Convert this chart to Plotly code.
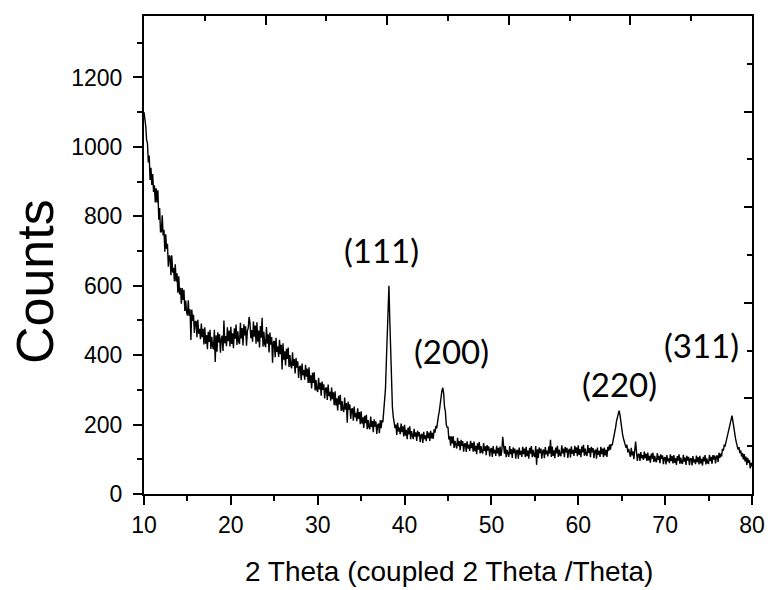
import plotly.graph_objects as go

# XRD scan: 2-theta from 10 to 80 deg, sampled every 0.1 deg
SCAN_START = 10.0
SCAN_STEP = 0.1
counts = [
    1100, 1080, 1060, 1020, 1010, 955, 975, 905, 940, 890,      # 10
    922, 870, 889, 840, 881, 840, 875, 790, 824, 755,           # 11
    755, 803, 745, 761, 698, 748, 706, 721, 655, 687,           # 12
    684, 630, 688, 638, 652, 613, 662, 612, 636, 580,           # 13
    627, 575, 594, 548, 593, 559, 588, 527, 557, 525,           # 14
    514, 558, 513, 532, 444, 531, 499, 516, 464, 496,           # 15
    498, 452, 502, 462, 476, 446, 491, 452, 476, 431,           # 16
    480, 433, 458, 417, 467, 438, 473, 418, 453, 425,           # 17
    417, 473, 380, 457, 410, 466, 437, 460, 407, 447,           # 18
    456, 412, 500, 434, 455, 426, 480, 440, 471, 425,           # 19
    482, 432, 463, 420, 477, 447, 488, 429, 469, 439,           # 20
    432, 493, 448, 478, 428, 489, 457, 483, 427, 470,           # 21
    478, 510, 494, 449, 472, 439, 497, 453, 485, 433,           # 22
    495, 439, 471, 422, 484, 450, 508, 424, 467, 431,           # 23
    423, 481, 433, 460, 408, 465, 430, 452, 378, 437,           # 24
    441, 394, 450, 409, 425, 395, 444, 403, 430, 359,           # 25
    434, 387, 411, 370, 418, 389, 422, 366, 400, 370,           # 26
    362, 408, 369, 389, 347, 392, 364, 382, 334, 366,           # 27
    369, 328, 376, 342, 357, 329, 372, 338, 361, 320,           # 28
    365, 320, 342, 304, 349, 320, 351, 298, 328, 301,           # 29
    294, 335, 301, 320, 283, 324, 300, 316, 275, 303,           # 30
    307, 271, 315, 282, 294, 269, 307, 273, 293, 256,           # 31
    296, 255, 276, 241, 283, 258, 286, 239, 268, 243,           # 32
    236, 278, 243, 262, 205, 266, 242, 258, 216, 244,           # 33
    247, 211, 252, 221, 234, 210, 247, 216, 236, 201,           # 34
    238, 203, 221, 190, 225, 204, 228, 187, 213, 192,           # 35
    187, 223, 193, 210, 178, 215, 194, 209, 173, 199,           # 36
    203, 175, 212, 190, 213, 207, 243, 258, 302, 380,           # 37
    470, 560, 600, 500, 400, 310, 250, 222, 205, 190,           # 38
    200, 170, 205, 180, 191, 172, 203, 178, 195, 166,           # 39
    199, 168, 185, 158, 191, 172, 195, 158, 181, 162,           # 40
    158, 188, 165, 178, 153, 182, 166, 178, 149, 170,           # 41
    173, 147, 179, 158, 169, 152, 181, 161, 177, 153,           # 42
    182, 160, 176, 159, 186, 177, 196, 189, 215, 225,           # 43
    238, 262, 272, 298, 306, 290, 250, 238, 200, 192,           # 44
    192, 157, 167, 139, 166, 146, 166, 133, 153, 136,           # 45
    131, 162, 138, 152, 126, 156, 139, 152, 122, 144,           # 46
    146, 121, 152, 131, 142, 124, 153, 132, 147, 122,           # 47
    151, 123, 139, 115, 146, 128, 150, 117, 138, 121,           # 48
    117, 147, 124, 137, 112, 141, 125, 137, 108, 129,           # 49
    132, 107, 138, 117, 127, 110, 139, 117, 133, 108,           # 50
    137, 110, 126, 165, 133, 116, 138, 106, 127, 111,           # 51
    107, 138, 115, 129, 104, 134, 118, 131, 102, 124,           # 52
    127, 102, 134, 113, 124, 107, 136, 115, 131, 106,           # 53
    136, 109, 125, 102, 133, 116, 138, 106, 127, 111,           # 54
    107, 138, 84, 129, 104, 134, 118, 131, 102, 124,            # 55
    128, 103, 135, 114, 125, 108, 137, 116, 156, 107,           # 56
    137, 110, 126, 103, 134, 117, 139, 107, 128, 112,           # 57
    109, 140, 117, 131, 106, 136, 120, 133, 104, 126,           # 58
    130, 105, 137, 116, 127, 110, 139, 118, 134, 109,           # 59
    140, 113, 129, 106, 137, 120, 142, 110, 131, 115,           # 60
    110, 141, 118, 132, 106, 136, 120, 132, 103, 125,           # 61
    127, 102, 134, 113, 124, 107, 136, 115, 131, 106,           # 62
    134, 111, 127, 107, 136, 124, 142, 128, 144, 140,           # 63
    152, 162, 178, 192, 210, 222, 232, 240, 228, 205,           # 64
    188, 172, 160, 148, 140, 133, 142, 120, 130, 112,           # 65
    107, 133, 111, 123, 100, 126, 151, 122, 95, 114,            # 66
    116, 95, 121, 103, 112, 98, 122, 103, 116, 95,              # 67
    119, 97, 110, 90, 116, 102, 119, 92, 110, 96,               # 68
    92, 118, 98, 110, 89, 114, 101, 111, 86, 104,               # 69
    106, 85, 112, 94, 103, 89, 114, 95, 109, 88,                # 70
    112, 90, 103, 84, 109, 96, 114, 87, 105, 91,                # 71
    87, 113, 93, 105, 84, 110, 96, 107, 83, 101,                # 72
    103, 82, 109, 91, 100, 86, 111, 92, 106, 85,                # 73
    110, 88, 101, 82, 107, 94, 112, 85, 103, 89,                # 74
    88, 113, 95, 107, 87, 112, 99, 111, 88, 107,                # 75
    111, 92, 119, 104, 116, 108, 130, 125, 140, 138,            # 76
    150, 160, 172, 185, 196, 208, 222, 226, 210, 188,           # 77
    172, 160, 148, 140, 128, 135, 118, 126, 108, 118,           # 78
    100, 115, 94, 108, 84, 104, 90, 98, 74, 90,                 # 79
    80,                                                         # 80
]
two_theta = [round(SCAN_START + SCAN_STEP * i, 1) for i in range(len(counts))]

# Miller indices of the reflections
peak_labels = ["(111)", "(200)", "(220)", "(311)"]
# label anchor points in data units
label_x = [37.33, 45.35, 64.71, 74.13]
label_y = [703, 412, 317, 429]

Y_MAX = 1377
X_RANGE = [10, 80]

TICK_FONT = dict(family="Liberation Sans, Arial, sans-serif", size=23, color="black")

fig = go.Figure()
fig.add_trace(go.Scatter(
    x=two_theta, y=counts, mode="lines",
    line=dict(color="black", width=1.4),
    showlegend=False, hoverinfo="x+y",
))
# empty trace that binds the opposite (top/right) tick axes
fig.add_trace(go.Scatter(
    x=[], y=[], xaxis="x2", yaxis="y2", mode="lines",
    showlegend=False, hoverinfo="skip",
))

for txt, lx, ly in zip(peak_labels, label_x, label_y):
    fig.add_annotation(
        x=lx, y=ly, xref="x", yref="y", text=txt, showarrow=False,
        xanchor="center", yanchor="middle",
        font=dict(family="Lato, Open Sans, sans-serif", size=33, color="black"),
    )

# axis titles
fig.add_annotation(
    x=-0.1796, y=0.445, xref="paper", yref="paper", text="Counts",
    textangle=-90, showarrow=False, xanchor="center", yanchor="middle",
    font=dict(family="Liberation Sans, Arial, sans-serif", size=52, color="black"),
)
fig.add_annotation(
    x=0.501, y=-0.163, xref="paper", yref="paper",
    text="2 Theta (coupled 2 Theta /Theta)",
    showarrow=False, xanchor="center", yanchor="middle",
    font=dict(family="Liberation Sans, Arial, sans-serif", size=28, color="black"),
)

fig.update_layout(
    width=777, height=590,
    margin=dict(l=143.5, r=20, t=15.5, b=96),
    paper_bgcolor="white", plot_bgcolor="white",
    xaxis=dict(
        range=X_RANGE, tick0=10, dtick=10,
        showline=True, linecolor="black", linewidth=2, mirror=True,
        ticks="outside", ticklen=9, tickwidth=2, tickcolor="black",
        minor=dict(dtick=5, tick0=10, ticks="outside", ticklen=5, tickwidth=2, tickcolor="black"),
        showgrid=False, zeroline=False, tickfont=TICK_FONT,
    ),
    yaxis=dict(
        range=[0, Y_MAX], tick0=0, dtick=200,
        showline=True, linecolor="black", linewidth=2, mirror=True,
        ticks="outside", ticklen=9, tickwidth=2, tickcolor="black",
        minor=dict(dtick=100, tick0=0, ticks="outside", ticklen=5, tickwidth=2, tickcolor="black"),
        showgrid=False, zeroline=False, tickfont=TICK_FONT,
        ticklabelstandoff=6,
    ),
    # opposite axes: ten equal divisions, ticks pointing inward
    xaxis2=dict(
        overlaying="x", side="top", anchor="y", range=X_RANGE,
        tick0=10, dtick=14, ticks="inside", ticklen=9, tickwidth=2, tickcolor="black",
        minor=dict(tick0=10, dtick=7, ticks="inside", ticklen=5, tickwidth=2, tickcolor="black"),
        showticklabels=False, showgrid=False, zeroline=False, showline=False,
    ),
    yaxis2=dict(
        overlaying="y", side="right", anchor="x", range=[0, Y_MAX],
        tick0=0, dtick=Y_MAX / 5, ticks="inside", ticklen=8, tickwidth=2, tickcolor="black",
        minor=dict(tick0=0, dtick=Y_MAX / 10, ticks="inside", ticklen=5, tickwidth=2, tickcolor="black"),
        showticklabels=False, showgrid=False, zeroline=False, showline=False,
    ),
)

fig.write_html("out.html")
